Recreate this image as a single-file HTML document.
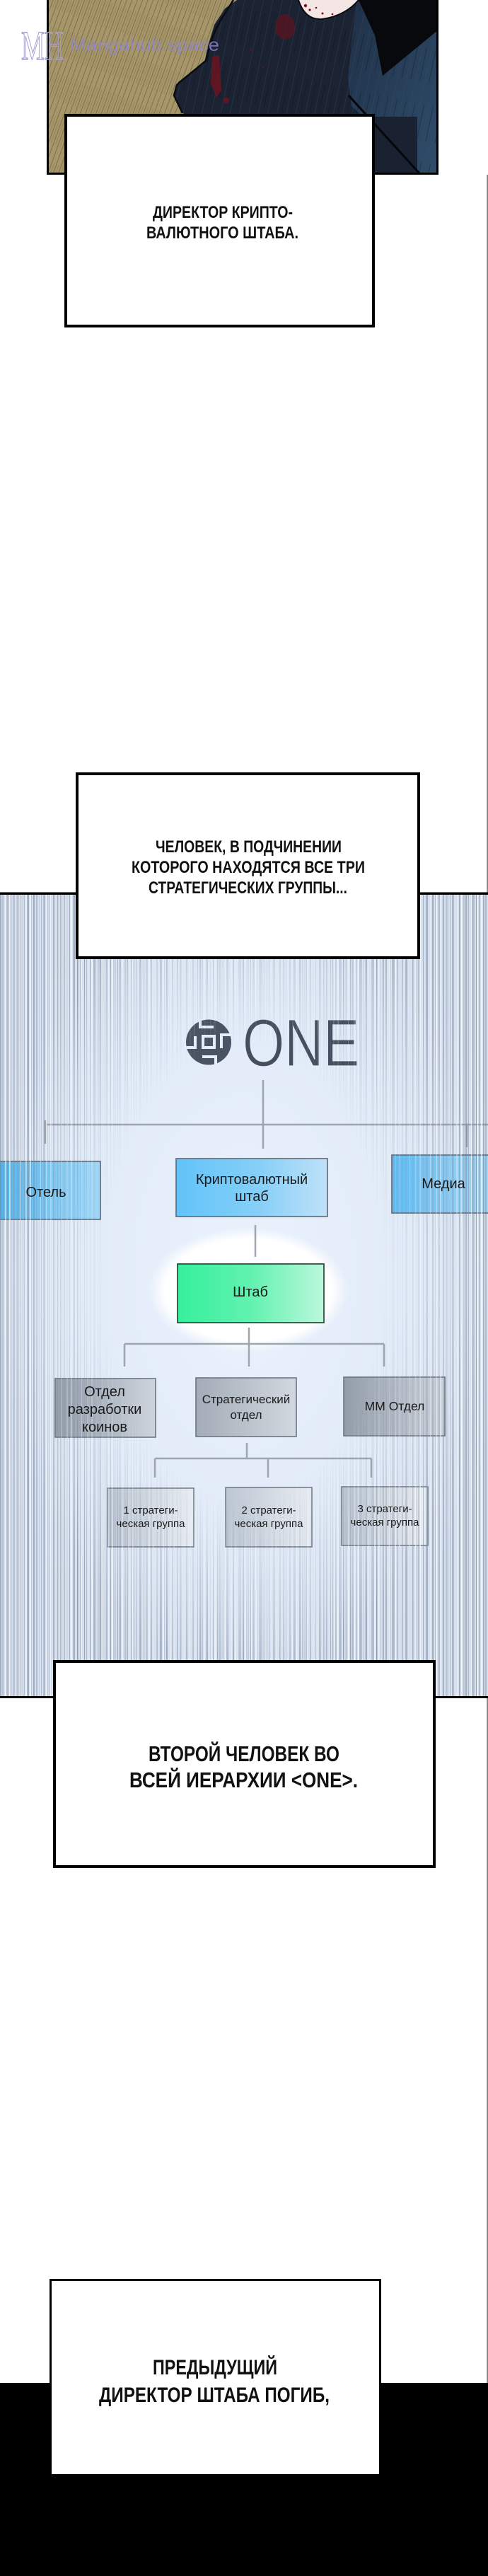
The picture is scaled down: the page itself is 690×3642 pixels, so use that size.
<!DOCTYPE html>
<html>
<head>
<meta charset="utf-8">
<style>
html,body{margin:0;padding:0;background:#fff;}
body{width:690px;height:3642px;overflow:hidden;}
svg{display:block;}
</style>
</head>
<body>
<svg xmlns="http://www.w3.org/2000/svg" width="690" height="3642" viewBox="0 0 690 3642">
<defs>
  <pattern id="wood" width="7" height="60" patternUnits="userSpaceOnUse" patternTransform="rotate(20)">
    <rect x="0" y="0" width="1" height="60" fill="#5a5030" opacity="0.55"/>
    <rect x="3.6" y="10" width="0.7" height="35" fill="#5a5030" opacity="0.35"/>
  </pattern>
  <pattern id="cloakStreak" width="13" height="80" patternUnits="userSpaceOnUse" patternTransform="rotate(12)">
    <rect x="0" y="0" width="1" height="80" fill="#3c4c66" opacity="0.35"/>
    <rect x="6" y="20" width="0.8" height="50" fill="#0b0f16" opacity="0.4"/>
  </pattern>
  <pattern id="pA" width="47" height="20" patternUnits="userSpaceOnUse">
    <rect x="0" y="0" width="2" height="20" fill="#6d7d94" opacity="0.5"/>
    <rect x="4" y="0" width="1" height="20" fill="#6d7d94" opacity="0.35"/>
    <rect x="9" y="0" width="3" height="20" fill="#7b8aa0" opacity="0.4"/>
    <rect x="15" y="0" width="1" height="20" fill="#5f6f86" opacity="0.6"/>
    <rect x="19" y="0" width="2" height="20" fill="#7b8aa0" opacity="0.3"/>
    <rect x="25" y="0" width="1" height="20" fill="#5f6f86" opacity="0.5"/>
    <rect x="28" y="0" width="2" height="20" fill="#6d7d94" opacity="0.4"/>
    <rect x="34" y="0" width="1" height="20" fill="#6d7d94" opacity="0.35"/>
    <rect x="38" y="0" width="3" height="20" fill="#7b8aa0" opacity="0.45"/>
    <rect x="44" y="0" width="1" height="20" fill="#6d7d94" opacity="0.3"/>
  </pattern>
  <pattern id="pB" width="29" height="20" patternUnits="userSpaceOnUse" patternTransform="translate(11 0)">
    <rect x="0" y="0" width="1" height="20" fill="#8e9cb0" opacity="0.45"/>
    <rect x="2" y="0" width="2" height="20" fill="#ffffff" opacity="0.6"/>
    <rect x="7" y="0" width="1" height="20" fill="#8e9cb0" opacity="0.4"/>
    <rect x="12" y="0" width="2" height="20" fill="#8e9cb0" opacity="0.25"/>
    <rect x="17" y="0" width="1" height="20" fill="#ffffff" opacity="0.7"/>
    <rect x="21" y="0" width="1" height="20" fill="#8e9cb0" opacity="0.45"/>
    <rect x="25" y="0" width="2" height="20" fill="#ffffff" opacity="0.5"/>
  </pattern>
  <radialGradient id="rg" gradientUnits="userSpaceOnUse" cx="0" cy="0" r="1" gradientTransform="translate(345 1800) scale(340 560)">
    <stop offset="0" stop-color="#000"/>
    <stop offset="0.57" stop-color="#000"/>
    <stop offset="0.86" stop-color="#999"/>
    <stop offset="1" stop-color="#fff"/>
  </radialGradient>
  <radialGradient id="bgG" gradientUnits="userSpaceOnUse" cx="0" cy="0" r="1" gradientTransform="translate(345 1800) scale(380 620)">
    <stop offset="0" stop-color="#eaf2fd"/>
    <stop offset="0.6" stop-color="#e2ebf8"/>
    <stop offset="1" stop-color="#d6e0ee"/>
  </radialGradient>
  <mask id="m" maskUnits="userSpaceOnUse" x="0" y="1263" width="690" height="1137">
    <rect x="0" y="1263" width="690" height="1137" fill="url(#rg)"/>
  </mask>
  <radialGradient id="glow">
    <stop offset="0" stop-color="#fff" stop-opacity="1"/>
    <stop offset="0.82" stop-color="#fff" stop-opacity="1"/>
    <stop offset="1" stop-color="#fff" stop-opacity="0"/>
  </radialGradient>
  <linearGradient id="gBlueL" x1="0" x2="1" y1="0" y2="0">
    <stop offset="0" stop-color="#55b8f0"/>
    <stop offset="1" stop-color="#a3d8f8"/>
  </linearGradient>
  <linearGradient id="gBlueC" x1="0" x2="1" y1="0" y2="0">
    <stop offset="0" stop-color="#62c3f9"/>
    <stop offset="0.55" stop-color="#86cff8"/>
    <stop offset="1" stop-color="#c0e1f8"/>
  </linearGradient>
  <linearGradient id="gBlueR" x1="0" x2="1" y1="0" y2="0">
    <stop offset="0" stop-color="#5fbcf3"/>
    <stop offset="1" stop-color="#a9d7f5"/>
  </linearGradient>
  <linearGradient id="gGreen" x1="0" x2="1" y1="0" y2="0">
    <stop offset="0" stop-color="#36ef9c"/>
    <stop offset="0.5" stop-color="#62f2b0"/>
    <stop offset="1" stop-color="#bcf8dc"/>
  </linearGradient>
  <linearGradient id="gGray" x1="0" x2="1" y1="0" y2="0">
    <stop offset="0" stop-color="#939daa"/>
    <stop offset="1" stop-color="#cdd4dc"/>
  </linearGradient>
  <linearGradient id="gGray2" x1="0" x2="1" y1="0" y2="0">
    <stop offset="0" stop-color="#a3acb7"/>
    <stop offset="1" stop-color="#d2d8df"/>
  </linearGradient>
  <linearGradient id="gGrp" x1="0" x2="1" y1="0" y2="0">
    <stop offset="0" stop-color="#bcc6d2"/>
    <stop offset="1" stop-color="#e8edf3"/>
  </linearGradient>
  <linearGradient id="gBlueCloak" x1="0" x2="1" y1="0" y2="1">
    <stop offset="0" stop-color="#1f3047"/>
    <stop offset="1" stop-color="#2f4d6a"/>
  </linearGradient>
</defs>

<!-- page background -->
<rect x="0" y="0" width="690" height="3642" fill="#ffffff"/>
<!-- right thin line -->
<rect x="688.5" y="247" width="1.2" height="3122" fill="#4a4a4a"/>

<!-- ===== Top panel art ===== -->
<rect x="66" y="0" width="554" height="247" fill="#a6966a"/>
<rect x="66" y="0" width="554" height="247" fill="url(#wood)"/>
<polygon points="335,0 318,12 303,35 294,65 289,88 272,100 252,116 246,132 252,148 262,165 620,165 620,0" fill="#1b2231"/>
<polygon points="335,0 318,12 303,35 294,65 289,88 272,100 252,116 246,132 252,148 262,165 620,165 620,0" fill="url(#cloakStreak)"/>
<polygon points="505,0 620,0 620,247 590,247 535,185 497,150 492,110 498,50" fill="url(#gBlueCloak)"/>
<polygon points="505,0 620,0 620,247 590,247 535,185 497,150 492,110 498,50" fill="url(#cloakStreak)"/>
<rect x="530" y="165" width="60" height="82" fill="#1a2232"/>
<polygon points="507,0 620,0 620,42 541,107 530,50" fill="#07090c"/>
<path d="M493,135 L593,245" stroke="#05070a" stroke-width="3" fill="none"/>
<path d="M330,0 C318,20 300,40 292,85 L250,120 L246,135 L258,160" stroke="#0a0c10" stroke-width="2.5" fill="none"/>
<path d="M422,0 L507,0 C497,12 480,24 455,27 C438,28 428,18 422,0 Z" fill="#f3e6e4"/>
<path d="M422,0 C428,18 438,28 455,27 C480,24 497,12 507,0" stroke="#0a0c10" stroke-width="2" fill="none"/>
<circle cx="432" cy="8" r="2.2" fill="#7a0f1a"/>
<circle cx="438" cy="14" r="1.6" fill="#7a0f1a"/>
<circle cx="447" cy="11" r="1.3" fill="#7a0f1a"/>
<circle cx="456" cy="19" r="1.5" fill="#7a0f1a"/>
<circle cx="470" cy="20" r="1.3" fill="#7a0f1a"/>
<ellipse cx="403" cy="38" rx="14" ry="18" fill="#5b1520" opacity="0.75"/>
<polygon points="300,80 310,78 313,128 306,138 298,118" fill="#6b1420" opacity="0.85"/>
<circle cx="320" cy="142" r="4" fill="#6b1420" opacity="0.85"/>
<circle cx="355" cy="70" r="1.5" fill="#5b1520"/>
<circle cx="372" cy="95" r="1.3" fill="#5b1520"/>
<!-- panel border -->
<path d="M67.5,0 V245.5 H618.5 V0" stroke="#000" stroke-width="3" fill="none"/>
<!-- watermark -->
<text x="30" y="84" font-family="Liberation Serif, serif" font-size="58" textLength="60" lengthAdjust="spacingAndGlyphs" fill="none" stroke="#a39ed6" stroke-width="1.4">MH</text>
<text x="99" y="72" font-family="Liberation Sans, sans-serif" font-size="25" textLength="211" lengthAdjust="spacingAndGlyphs" fill="#8f88d0" opacity="0.8">Mangahub.space</text>

<!-- Box 1 -->
<rect x="93" y="163" width="435" height="298" fill="#fff" stroke="#000" stroke-width="4"/>
<g font-family="Liberation Sans, sans-serif" font-weight="bold" fill="#111">
  <text x="216" y="308" font-size="24" textLength="198" lengthAdjust="spacingAndGlyphs">ДИРЕКТОР КРИПТО-</text>
  <text x="207" y="337" font-size="24" textLength="215" lengthAdjust="spacingAndGlyphs">ВАЛЮТНОГО ШТАБА.</text>
</g>

<!-- ===== Blue strip ===== -->
<rect x="0" y="1263" width="690" height="1137" fill="url(#bgG)"/>
<ellipse cx="351" cy="1824" rx="142" ry="88" fill="url(#glow)"/>

<!-- connectors -->
<g stroke="#9ea5ae" stroke-width="2.5" fill="none">
  <line x1="372" y1="1527" x2="372" y2="1624"/>
  <line x1="66" y1="1590" x2="690" y2="1590"/>
  <line x1="64" y1="1584" x2="64" y2="1617"/>
  <line x1="660" y1="1589" x2="660" y2="1622"/>
  <line x1="361" y1="1732" x2="361" y2="1777"/>
  <line x1="352" y1="1877" x2="352" y2="1932"/>
  <line x1="176" y1="1900" x2="543" y2="1900"/>
  <line x1="176" y1="1900" x2="176" y2="1932"/>
  <line x1="543" y1="1900" x2="543" y2="1932"/>
  <line x1="349" y1="2040" x2="349" y2="2062"/>
  <line x1="219" y1="2062" x2="525" y2="2062"/>
  <line x1="219" y1="2062" x2="219" y2="2089"/>
  <line x1="379" y1="2062" x2="379" y2="2089"/>
  <line x1="525" y1="2062" x2="525" y2="2089"/>
</g>

<!-- ONE logo -->
<circle cx="295" cy="1473.5" r="32" fill="#4a5363"/>
<g stroke="#e6eef9" stroke-width="4" fill="none" stroke-linecap="square">
  <rect x="287" y="1465" width="16" height="16"/>
  <polyline points="283,1443 283,1452 300,1452"/>
  <polyline points="327,1463 313,1463 313,1480"/>
  <polyline points="305,1504 305,1494 288,1494"/>
  <polyline points="263,1481 276,1481 276,1467"/>
</g>
<text x="343" y="1507" font-family="Liberation Sans, sans-serif" font-size="95" textLength="165" lengthAdjust="spacingAndGlyphs" fill="#454e5e" stroke="#e4ecf8" stroke-width="1.2">ONE</text>

<!-- top-level nodes -->
<rect x="-2" y="1642" width="144" height="82" fill="url(#gBlueL)" stroke="#5d6875" stroke-width="1.6"/>
<rect x="249" y="1638" width="214" height="82" fill="url(#gBlueC)" stroke="#5d6875" stroke-width="1.6"/>
<rect x="554" y="1633" width="140" height="82" fill="url(#gBlueR)" stroke="#5d6875" stroke-width="1.6"/>
<rect x="251" y="1787" width="207" height="83" fill="url(#gGreen)" stroke="#3c4a44" stroke-width="1.8"/>

<!-- departments -->
<rect x="78" y="1949" width="142" height="83" fill="url(#gGray)" stroke="#6c7680" stroke-width="1.6"/>
<rect x="277" y="1948" width="142" height="83" fill="url(#gGray2)" stroke="#6c7680" stroke-width="1.6"/>
<rect x="486" y="1947" width="143" height="83" fill="url(#gGray)" stroke="#6c7680" stroke-width="1.6"/>

<!-- groups -->
<rect x="152" y="2104" width="122" height="83" fill="url(#gGrp)" stroke="#6c7680" stroke-width="1.5"/>
<rect x="319" y="2103" width="122" height="84" fill="url(#gGrp)" stroke="#6c7680" stroke-width="1.5"/>
<rect x="483" y="2102" width="122" height="83" fill="url(#gGrp)" stroke="#6c7680" stroke-width="1.5"/>

<!-- stripes over everything (masked center) -->
<g mask="url(#m)">
  <rect x="0" y="1263" width="690" height="1137" fill="url(#pA)"/>
  <rect x="0" y="1263" width="690" height="1137" fill="url(#pB)"/>
</g>

<!-- node texts -->
<g font-family="Liberation Sans, sans-serif" fill="#1a1a1a" text-anchor="middle">
  <text x="65" y="1692" font-size="20">Отель</text>
  <text x="356" y="1674" font-size="20">Криптовалютный</text>
  <text x="356" y="1698" font-size="20">штаб</text>
  <text x="627" y="1680" font-size="20">Медиа</text>
  <text x="354" y="1833" font-size="20">Штаб</text>
  <text x="148" y="1974" font-size="20">Отдел</text>
  <text x="148" y="1999" font-size="20">разработки</text>
  <text x="148" y="2024" font-size="20">коинов</text>
  <text x="348" y="1984" font-size="17">Стратегический</text>
  <text x="348" y="2006" font-size="17">отдел</text>
  <text x="558" y="1994" font-size="17.5">ММ Отдел</text>
  <text x="213" y="2140" font-size="15">1 стратеги-</text>
  <text x="213" y="2159" font-size="15">ческая группа</text>
  <text x="380" y="2140" font-size="15">2 стратеги-</text>
  <text x="380" y="2159" font-size="15">ческая группа</text>
  <text x="544" y="2138" font-size="15">3 стратеги-</text>
  <text x="544" y="2157" font-size="15">ческая группа</text>
</g>

<!-- strip borders -->
<rect x="0" y="1261.5" width="690" height="3.5" fill="#000"/>
<rect x="0" y="2398" width="690" height="3" fill="#000"/>

<!-- Box 2 -->
<rect x="109" y="1094" width="483" height="260" fill="#fff" stroke="#000" stroke-width="4"/>
<g font-family="Liberation Sans, sans-serif" font-weight="bold" fill="#111">
  <text x="220" y="1205" font-size="24" textLength="263" lengthAdjust="spacingAndGlyphs">ЧЕЛОВЕК, В ПОДЧИНЕНИИ</text>
  <text x="186" y="1234" font-size="24" textLength="330" lengthAdjust="spacingAndGlyphs">КОТОРОГО НАХОДЯТСЯ ВСЕ ТРИ</text>
  <text x="210" y="1263" font-size="24" textLength="281" lengthAdjust="spacingAndGlyphs">СТРАТЕГИЧЕСКИХ ГРУППЫ...</text>
</g>

<!-- Box 3 -->
<rect x="77" y="2349" width="537" height="290" fill="#fff" stroke="#000" stroke-width="4"/>
<g font-family="Liberation Sans, sans-serif" font-weight="bold" fill="#111">
  <text x="210" y="2490" font-size="31" textLength="270" lengthAdjust="spacingAndGlyphs">ВТОРОЙ ЧЕЛОВЕК ВО</text>
  <text x="183" y="2527" font-size="31" textLength="323" lengthAdjust="spacingAndGlyphs">ВСЕЙ ИЕРАРХИИ &lt;ONE&gt;.</text>
</g>

<!-- bottom black bar -->
<rect x="0" y="3369" width="690" height="273" fill="#000"/>

<!-- Box 4 -->
<rect x="71.5" y="3223.5" width="466" height="276" fill="#fff" stroke="#000" stroke-width="3"/>
<g font-family="Liberation Sans, sans-serif" font-weight="bold" fill="#111">
  <text x="216" y="3357" font-size="30" textLength="176" lengthAdjust="spacingAndGlyphs">ПРЕДЫДУЩИЙ</text>
  <text x="140" y="3396" font-size="30" textLength="326" lengthAdjust="spacingAndGlyphs">ДИРЕКТОР ШТАБА ПОГИБ,</text>
</g>
</svg>
</body>
</html>
